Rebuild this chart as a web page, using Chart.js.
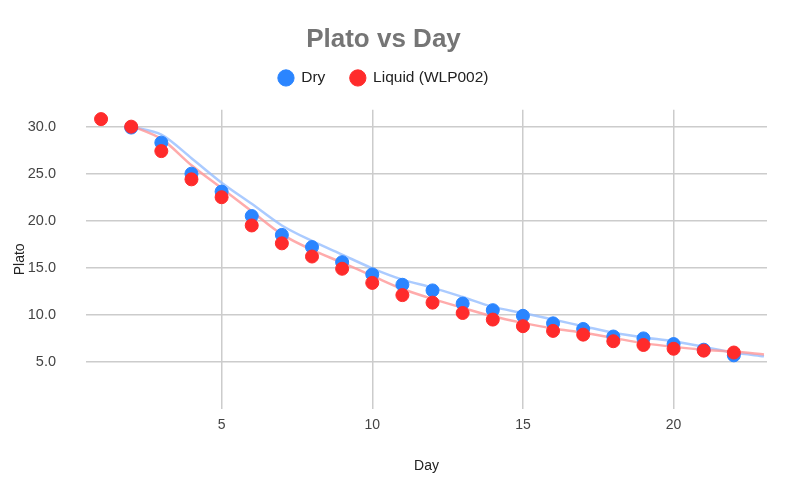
<!DOCTYPE html>
<html>
<head>
<meta charset="utf-8">
<script src="https://cdn.jsdelivr.net/npm/chart.js@4"></script>
<style>
  html, body { margin: 0; padding: 0; background: #fff; }
  #wrap { width: 800px; height: 487px; }
</style>
</head>
<body>
<div id="wrap"><canvas id="platoChart"></canvas></div>
<script>
// values
const days = [1, 2, 3, 4, 5, 6, 7, 8, 9, 10, 11, 12, 13, 14, 15, 16, 17, 18, 19, 20, 21, 22];
const dryPlato = [null, 29.9, 28.3, 25.0, 23.1, 20.5, 18.5, 17.2, 15.6, 14.3, 13.2, 12.6, 11.2, 10.5, 9.9, 9.1, 8.5, 7.7, 7.5, 6.9, 6.3, 5.7];
const liquidPlato = [30.8, 30.0, 27.4, 24.4, 22.5, 19.5, 17.6, 16.2, 14.9, 13.4, 12.1, 11.3, 10.2, 9.5, 8.8, 8.3, 7.9, 7.2, 6.8, 6.4, 6.2, 6.0];

// trendlines
const trendDays = [2, 3, 4, 5, 6, 7, 8, 9, 10, 11, 12, 13, 14, 15, 16, 17, 18, 19, 20, 21, 22, 23];
const dryTrend = [30.0, 29.15, 26.65, 24.05, 21.8, 19.5, 17.85, 16.4, 14.95, 13.75, 12.9, 11.9, 10.85, 10.2, 9.5, 8.8, 8.1, 7.6, 7.2, 6.6, 6.0, 5.6];
const liquidTrend = [30.1, 28.7, 25.9, 23.45, 21.0, 18.55, 16.9, 15.55, 14.15, 12.75, 11.7, 10.75, 9.85, 9.15, 8.55, 8.1, 7.55, 7.0, 6.6, 6.3, 6.1, 5.8];

const xTicks = [5, 10, 15, 20];
const yTicks = [5, 10, 15, 20, 25, 30];

function toPoints(xs, ys) {
    return xs.map((x, i) => ({ x: x, y: ys[i] })).filter(p => p.y !== null);
}

const fontFamily = '"Liberation Sans", Arial, sans-serif';

// give the legend some extra room below it
const legendSpacer = {
    id: 'legendSpacer',
    beforeInit(chart) {
        const origFit = chart.legend.fit;
        chart.legend.fit = function () {
            origFit.bind(chart.legend)();
            this.height += 14;
        };
    }
};

const ctx = document.getElementById('platoChart').getContext('2d');
new Chart(ctx, {
    type: 'scatter',
    data: {
        datasets: [
            {
                label: 'Liquid (WLP002)',
                data: toPoints(days, liquidPlato),
                backgroundColor: '#ff2b2b',
                borderColor: '#ff2b2b',
                pointRadius: 6.5,
                pointHoverRadius: 6.5,
                order: 1
            },
            {
                label: 'Dry',
                data: toPoints(days, dryPlato),
                backgroundColor: '#2b85ff',
                borderColor: '#2b85ff',
                pointRadius: 6.5,
                pointHoverRadius: 6.5,
                order: 2
            },
            {
                label: 'liquid trend',
                data: toPoints(trendDays, liquidTrend),
                showLine: true,
                borderColor: 'rgba(255, 150, 150, 0.8)',
                borderWidth: 2.5,
                pointRadius: 0,
                tension: 0.3,
                order: 3
            },
            {
                label: 'dry trend',
                data: toPoints(trendDays, dryTrend),
                showLine: true,
                borderColor: 'rgba(150, 190, 255, 0.8)',
                borderWidth: 2.5,
                pointRadius: 0,
                tension: 0.3,
                order: 4
            }
        ]
    },
    options: {
        responsive: true,
        maintainAspectRatio: false,
        animation: false,
        layout: { padding: { left: 0, right: 33, top: 0, bottom: 0 } },
        plugins: {
            title: {
                display: true,
                text: 'Plato vs Day',
                color: '#757575',
                font: { family: fontFamily, size: 26, weight: 'bold' },
                padding: { top: 24, bottom: -10 }
            },
            legend: {
                position: 'top',
                reverse: true,
                labels: {
                    usePointStyle: true,
                    pointStyle: 'circle',
                    boxWidth: 15,
                    boxHeight: 11.5,
                    padding: 25,
                    color: '#222',
                    font: { family: fontFamily, size: 15.5 },
                    filter: item => item.text === 'Dry' || item.text === 'Liquid (WLP002)'
                }
            },
            tooltip: { enabled: false }
        },
        scales: {
            x: {
                type: 'linear',
                min: 0.5,
                max: 23.1,
                afterBuildTicks: scale => { scale.ticks = xTicks.map(v => ({ value: v })); },
                afterFit: scale => { scale.height = 78; },
                grid: { color: '#cccccc', lineWidth: 1.5, drawTicks: false },
                border: { display: false },
                ticks: {
                    color: '#444',
                    padding: 8,
                    font: { family: fontFamily, size: 14 }
                },
                title: {
                    display: true,
                    text: 'Day',
                    color: '#222',
                    font: { family: fontFamily, size: 14 },
                    padding: { top: 4, bottom: 12 }
                }
            },
            y: {
                min: 0,
                max: 31.8,
                afterBuildTicks: scale => { scale.ticks = yTicks.map(v => ({ value: v })); },
                afterFit: scale => { scale.width = 86; },
                grid: { color: '#cccccc', lineWidth: 1.5, drawTicks: false },
                border: { display: false },
                ticks: {
                    color: '#444',
                    padding: 30,
                    font: { family: fontFamily, size: 14.5 },
                    callback: v => v.toFixed(1)
                },
                title: {
                    display: true,
                    text: 'Plato',
                    color: '#222',
                    font: { family: fontFamily, size: 14 },
                    padding: { top: 12, bottom: 0 }
                }
            }
        }
    },
    plugins: [legendSpacer]
});
</script>
</body>
</html>
